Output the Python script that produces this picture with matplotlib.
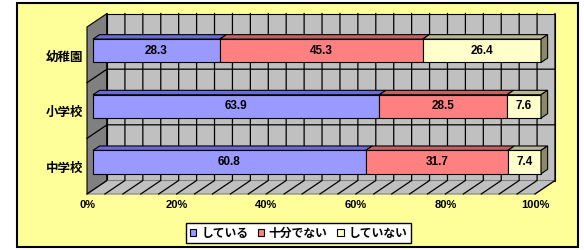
import matplotlib
matplotlib.use("Agg")
import matplotlib.pyplot as plt
from matplotlib.patches import Polygon, Rectangle, Patch
from matplotlib.font_manager import FontProperties

# --- data ---
categories = ['幼稚園', '小学校', '中学校']
series_names = ['している', '十分でない', 'していない']
doing = [28.3, 63.9, 60.8]
not_enough = [45.3, 28.5, 31.7]
not_doing = [26.4, 7.6, 7.4]
tick_values = [0, 20, 40, 60, 80, 100]
tick_labels = ['0%', '20%', '40%', '60%', '80%', '100%']

front_colors = ['#9999FF', '#FF8080', '#FFFFCC']
top_colors = ['#6B6BD6', '#C46262', '#B8B895']
side_color = '#8A8A6A'

# --- layout in pixels (figure 584x250) ---
W, H = 584, 250
PX0, PX100 = 87, 535      # front plane, 0% and 100%
PY0, PY3 = 27, 194        # front plane, top and bottom of category axis
sx = (PX100 - PX0) / 100.0
sy = (PY3 - PY0) / 3.0
DX = 20 / sx              # depth offset in data units
DY = 13.5 / sy
Z0, Z1 = 0.30, 0.63       # bar depth range
BAR_H = 0.42

def P(x, y, z):
    return (x + z * DX, y - z * DY)

fig = plt.figure(figsize=(W / 100, H / 100), dpi=100)
ax = fig.add_axes([0, 0, 1, 1])
ax.set_xlim(-PX0 / sx, (W - PX0) / sx)
ax.set_ylim((H - PY0) / sy, -PY0 / sy)
ax.axis('off')

# outer yellow frame
ax.add_patch(Rectangle((17 / W, 3 / H), (577.5 - 17) / W, (247.5 - 3) / H,
                       transform=ax.transAxes, facecolor='#FFFF99',
                       edgecolor='black', linewidth=1.5, zorder=0))

# walls and floor
ax.add_patch(Polygon([P(0, 0, 1), P(100, 0, 1), P(100, 3, 1), P(0, 3, 1)],
                     facecolor='#C0C0C0', edgecolor='black', linewidth=0.8, zorder=1))
ax.add_patch(Polygon([P(0, 0, 0), P(0, 0, 1), P(0, 3, 1), P(0, 3, 0)],
                     facecolor='#808080', edgecolor='black', linewidth=0.8, zorder=1))
ax.add_patch(Polygon([P(0, 3, 0), P(100, 3, 0), P(100, 3, 1), P(0, 3, 1)],
                     facecolor='#C0C0C0', edgecolor='#808080', linewidth=0.8, zorder=1))

# gridlines every 4%
for gx in range(0, 101, 4):
    a, b, c = P(gx, 0, 1), P(gx, 3, 1), P(gx, 3, 0)
    ax.plot([a[0], b[0], c[0]], [a[1], b[1], c[1]], color='black', lw=0.9, zorder=2)
for gy in [1, 2]:
    a, b, c = P(0, gy, 0), P(0, gy, 1), P(100, gy, 1)
    ax.plot([a[0], b[0], c[0]], [a[1], b[1], c[1]], color='black', lw=0.9, zorder=2)

# stacked 3D bars (100% stacked)
num_font = FontProperties(family='Liberation Sans', weight='bold', size=8.5)
series = [doing, not_enough, not_doing]
for i in range(len(categories)):
    vals = [s[i] for s in series]
    total = sum(vals)
    yt = i + 0.5 - BAR_H / 2
    yb = i + 0.5 + BAR_H / 2
    start = 0.0
    for k, v in enumerate(vals):
        w = v / total * 100
        end = start + w
        ax.add_patch(Polygon([P(start, yt, Z0), P(end, yt, Z0), P(end, yt, Z1), P(start, yt, Z1)],
                             facecolor=top_colors[k], edgecolor='black', linewidth=0.8, zorder=3))
        ax.add_patch(Polygon([P(start, yt, Z0), P(end, yt, Z0), P(end, yb, Z0), P(start, yb, Z0)],
                             facecolor=front_colors[k], edgecolor='black', linewidth=0.8, zorder=3))
        if k == len(vals) - 1:
            ax.add_patch(Polygon([P(end, yt, Z0), P(end, yt, Z1), P(end, yb, Z1), P(end, yb, Z0)],
                                 facecolor=side_color, edgecolor='black', linewidth=0.8, zorder=3))
        cx, cy = P(start + w / 2, i + 0.5, Z0)
        ax.text(cx, cy, f'{v:.1f}', ha='center', va='center', fontproperties=num_font, zorder=4)
        start = end

# axis labels
tick_font = FontProperties(family='Liberation Sans', weight='bold', size=8)
for tv, tl in zip(tick_values, tick_labels):
    ax.text(tv, 3.2, tl, ha='center', va='center', fontproperties=tick_font, zorder=4)

cat_font = FontProperties(family='Noto Sans CJK JP', weight='bold', size=9)
for i, c in enumerate(categories):
    ax.text(-0.9, i + 0.54, c, ha='right', va='center', fontproperties=cat_font, zorder=4)

# legend
handles = [Patch(facecolor=fc, edgecolor='black', linewidth=0.8) for fc in front_colors]
leg = fig.legend(handles, series_names, ncol=3, loc='center',
                 bbox_to_anchor=(298.5 / W, 1 - 233 / H), frameon=True, fancybox=False,
                 edgecolor='black', framealpha=1, handlelength=0.55, handleheight=0.55,
                 handletextpad=0.4, columnspacing=0.8, borderpad=0.3, borderaxespad=0,
                 prop=FontProperties(family='Noto Sans CJK JP', weight='bold', size=8.5))
leg.get_frame().set_linewidth(1.0)

fig.savefig('out.png', dpi=100)
